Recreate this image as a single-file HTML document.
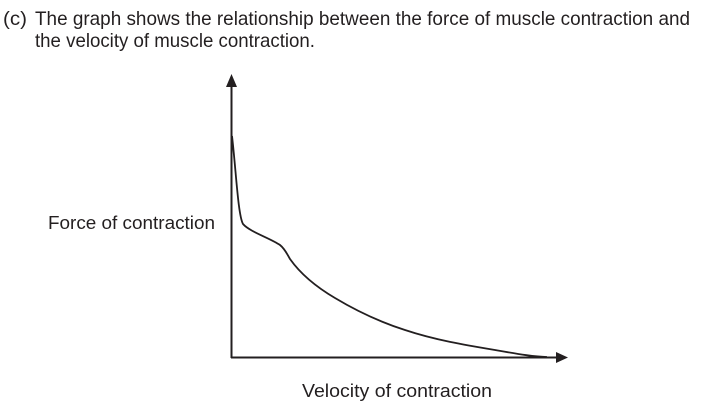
<!DOCTYPE html>
<html><head><meta charset="utf-8"><style>
html,body{margin:0;padding:0;background:#fff;}
svg{display:block;}
text{font-family:"Liberation Sans",sans-serif;fill:#231f20;}
</style></head><body>
<svg width="717" height="416" viewBox="0 0 717 416" xmlns="http://www.w3.org/2000/svg">
<text x="3" y="25" font-size="19.5" textLength="24" lengthAdjust="spacingAndGlyphs">(c)</text>
<text x="35" y="25" font-size="19.5" textLength="655" lengthAdjust="spacingAndGlyphs">The graph shows the relationship between the force of muscle contraction and</text>
<text x="35" y="47" font-size="19.5" textLength="280" lengthAdjust="spacingAndGlyphs">the velocity of muscle contraction.</text>
<text x="48" y="229" font-size="18" textLength="167" lengthAdjust="spacingAndGlyphs">Force of contraction</text>
<text x="302" y="397" font-size="18" textLength="190" lengthAdjust="spacingAndGlyphs">Velocity of contraction</text>
<g stroke="#231f20" stroke-width="2" fill="none">
<line x1="231.5" y1="84" x2="231.5" y2="358"/>
<line x1="231" y1="357.5" x2="560" y2="357.5"/>
<path d="M232,136 C236,170 238,215 243,224 C250,232 270,238 280,245 C285,249 287,254 290,259 C302,276 318,288 335,298 C355,310 380,322 405,330 C435,340 465,345 495,350 C518,354 535,357 547,357" stroke-width="1.8"/>
</g>
<polygon points="231.5,74 226,87 237,87" fill="#231f20"/>
<polygon points="568,357.5 556,352 556,363" fill="#231f20"/>
</svg>
</body></html>
